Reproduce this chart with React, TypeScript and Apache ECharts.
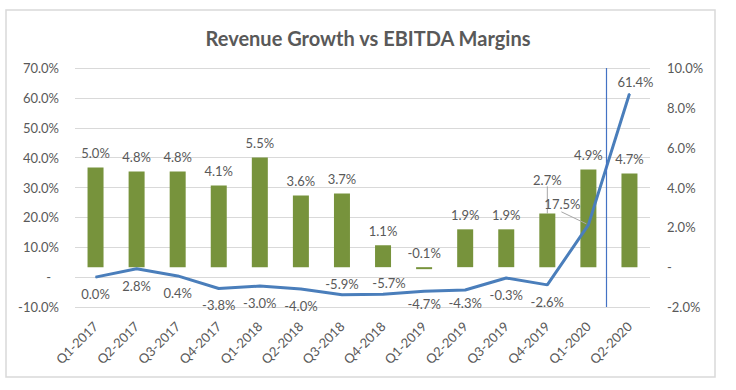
import React, { useEffect, useRef } from "react";
import * as echarts from "echarts";

const categories = [
  "Q1-2017", "Q2-2017", "Q3-2017", "Q4-2017", "Q1-2018", "Q2-2018", "Q3-2018",
  "Q4-2018", "Q1-2019", "Q2-2019", "Q3-2019", "Q4-2019", "Q1-2020", "Q2-2020",
];
const ebitdaMargin = [5.0, 4.8, 4.8, 4.1, 5.5, 3.6, 3.7, 1.1, -0.1, 1.9, 1.9, 2.7, 4.9, 4.7];
const revenueGrowth = [0.0, 2.8, 0.4, -3.8, -3.0, -4.0, -5.9, -5.7, -4.7, -4.3, -0.3, -2.6, 17.5, 61.4];
const leftTicks = { min: -10, max: 70, interval: 10 };
const rightTicks = { min: -2, max: 10, interval: 2 };

const TEXT = "#595959";
const FONT = "Lato, 'Open Sans', sans-serif";

export default function App() {
  const ref = useRef<HTMLDivElement>(null);
  useEffect(() => {
    if (!ref.current) return;
    const chart = echarts.init(ref.current, undefined, { renderer: "svg" });

    const lineData = revenueGrowth.map((v, i) => {
      if (i === 6 || i === 7) {
        return { value: v, label: { position: "top", distance: 4, offset: i === 7 ? [6, 0] : [0, 0] } };
      }
      if (i === 8 || i === 9) {
        return { value: v, label: { position: "bottom", distance: 6 } };
      }
      if (i === 12) {
        return { value: v, label: { position: "top", distance: 5, offset: [-26, -9] } };
      }
      if (i === 13) {
        return { value: v, label: { position: "top", distance: 5, offset: [6, 0] } };
      }
      return v;
    });

    const barData = ebitdaMargin.map((v, i) => {
      if (i === 11) {
        return {
          value: v,
          label: { position: "top", offset: [0, -19] },
          labelLine: { show: true, lineStyle: { color: "#a6a6a6", width: 1 } },
        };
      }
      return v;
    });

    chart.setOption({
      animation: false,
      textStyle: { fontFamily: FONT },
      title: {
        text: "Revenue Growth vs EBITDA Margins",
        left: "center",
        top: 23,
        textStyle: { color: TEXT, fontSize: 20, fontWeight: "bold", fontFamily: FONT },
      },
      grid: { left: 75, right: 86, top: 68, bottom: 83, containLabel: false },
      xAxis: {
        type: "category",
        data: categories,
        axisLine: { show: false },
        axisTick: { show: false },
        axisLabel: { rotate: 45, color: TEXT, fontSize: 13, margin: 17, fontFamily: FONT },
      },
      yAxis: [
        {
          type: "value",
          min: leftTicks.min,
          max: leftTicks.max,
          interval: leftTicks.interval,
          axisLine: { show: false },
          axisTick: { show: false },
          splitLine: { lineStyle: { color: "#d9d9d9", width: 1 } },
          axisLabel: {
            color: TEXT,
            fontSize: 13,
            margin: 16,
            fontFamily: FONT,
            formatter: (v: number) => (v === 0 ? "{d|-}" : v.toFixed(1) + "%"),
            rich: { d: { color: TEXT, fontSize: 13, padding: [0, 8, 0, 0], fontFamily: FONT } },
          },
        },
        {
          type: "value",
          min: rightTicks.min,
          max: rightTicks.max,
          interval: rightTicks.interval,
          axisLine: { show: false },
          axisTick: { show: false },
          splitLine: { show: false },
          axisLabel: {
            color: TEXT,
            fontSize: 13,
            margin: 17,
            fontFamily: FONT,
            formatter: (v: number) => (v === 0 ? "-" : v.toFixed(1) + "%"),
          },
        },
      ],
      series: [
        {
          name: "EBITDA Margin",
          type: "bar",
          yAxisIndex: 1,
          data: barData,
          barWidth: 16,
          itemStyle: { color: "#77933c" },
          label: {
            show: true,
            position: "top",
            distance: 8,
            color: TEXT,
            fontSize: 13,
            fontFamily: FONT,
            formatter: (p: any) => Number(p.value).toFixed(1) + "%",
          },
          z: 2,
        },
        {
          name: "Revenue Growth",
          type: "line",
          yAxisIndex: 0,
          data: lineData,
          symbol: "circle",
          symbolSize: 1,
          showSymbol: true,
          showAllSymbol: true,
          itemStyle: { color: "#4a7ebb" },
          lineStyle: { color: "#4a7ebb", width: 3 },
          label: {
            show: true,
            position: "bottom",
            distance: 10,
            color: TEXT,
            fontSize: 13,
            fontFamily: FONT,
            formatter: (p: any) => Number(p.value).toFixed(1) + "%",
          },
          z: 3,
        },
      ],
    });

    const p12 = chart.convertToPixel({ xAxisIndex: 0 }, categories[12]) as number;
    const p13 = chart.convertToPixel({ xAxisIndex: 0 }, categories[13]) as number;
    const yTop = chart.convertToPixel({ yAxisIndex: 0 }, leftTicks.max) as number;
    const yBot = chart.convertToPixel({ yAxisIndex: 0 }, leftTicks.min) as number;
    const pt = chart.convertToPixel({ xAxisIndex: 0, yAxisIndex: 0 }, [12, revenueGrowth[12]]) as number[];
    const vx = Math.round(p12 + 0.43 * (p13 - p12)) + 0.5;

    chart.setOption({
      graphic: [
        {
          type: "rect",
          shape: { x: 6, y: 10, width: 709, height: 367 },
          style: { fill: "none", stroke: "#d9d9d9", lineWidth: 1.5 },
          silent: true,
          z: -1,
        },
        {
          type: "line",
          shape: { x1: pt[0] - 27, x2: pt[0] - 2, y1: pt[1] - 13, y2: pt[1] - 1 },
          style: { stroke: "#a6a6a6", lineWidth: 1 },
          silent: true,
          z: 5,
        },
        {
          type: "line",
          shape: { x1: vx, y1: yTop, x2: vx, y2: yBot },
          style: { stroke: "#4472c4", lineWidth: 1.2 },
          silent: true,
          z: 10,
        },
      ],
    });

    return () => chart.dispose();
  }, []);
  return (
    <div
      ref={ref}
      style={{ position: "absolute", left: 0, top: 0, width: 736, height: 390 }}
    />
  );
}
